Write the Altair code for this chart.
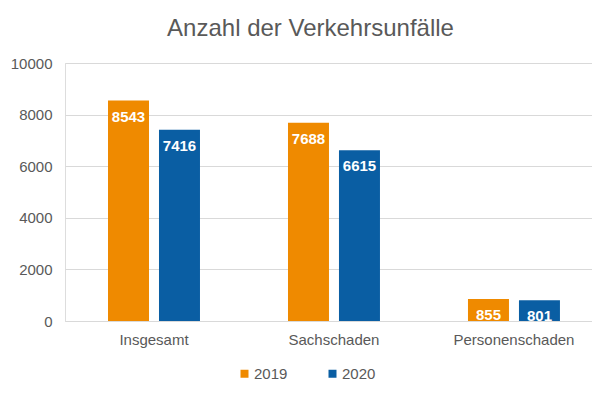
import altair as alt
import pandas as pd

kategorien = ["Insgesamt", "Sachschaden", "Personenschaden"]
jahre = ["2019", "2020"]
werte_2019 = [8543, 7688, 855]
werte_2020 = [7416, 6615, 801]
farben = ["#EF8A00", "#0A5EA3"]
y_ticks = [0, 2000, 4000, 6000, 8000, 10000]

rows = []
for k, a, b in zip(kategorien, werte_2019, werte_2020):
    rows.append({"Kategorie": k, "Jahr": "2019", "Wert": a})
    rows.append({"Kategorie": k, "Jahr": "2020", "Wert": b})
df = pd.DataFrame(rows)

FONT = "Liberation Sans"
GREY = "#595959"

base = alt.Chart(df).encode(
    x=alt.X(
        "Kategorie:N",
        sort=kategorien,
        title=None,
        scale=alt.Scale(paddingInner=0.489, paddingOuter=0.2085, align=0.573),
        axis=alt.Axis(
            labelAngle=0, ticks=False, tickSize=0, labelPadding=11,
            domainColor="#d9d9d9", labelFontSize=15, labelColor=GREY,
            labelFont=FONT, grid=False,
        ),
    ),
    xOffset=alt.XOffset("Jahr:N", sort=jahre, scale=alt.Scale(paddingInner=0.196, paddingOuter=0)),
    y=alt.Y(
        "Wert:Q",
        title=None,
        scale=alt.Scale(domain=[0, 10000]),
        axis=alt.Axis(
            values=y_ticks, format="d", domain=False, ticks=False, tickSize=0, labelPadding=13,
            gridColor="#d9d9d9", labelFontSize=15, labelColor=GREY, labelFont=FONT,
        ),
    ),
)

bars = base.mark_bar().encode(
    color=alt.Color(
        "Jahr:N",
        sort=jahre,
        scale=alt.Scale(domain=jahre, range=farben),
        legend=alt.Legend(
            orient="none", direction="horizontal", title=None,
            legendX=172, legendY=303,
            symbolType="square", symbolSize=64, symbolStrokeWidth=0,
            labelFontSize=15, labelColor=GREY, labelFont=FONT,
            labelOffset=2, columnPadding=37,
        ),
    )
)

labels = base.mark_text(
    baseline="top", dy=9, color="white", fontWeight="bold", fontSize=15, font=FONT
).encode(text=alt.Text("Wert:Q", format="d"))

chart = (
    alt.layer(bars, labels)
    .properties(
        width=527,
        height=258,
        padding={"left": 2, "top": 9, "right": 0, "bottom": 0},
        title=alt.TitleParams(
            "Anzahl der Verkehrsunfälle", fontSize=24, font=FONT, color=GREY,
            fontWeight="normal", offset=15, dx=-18,
        ),
    )
    .configure_view(stroke=None)
    .configure(background="white")
)

chart.save("out.html", embed_options={"renderer": "svg", "actions": False})
